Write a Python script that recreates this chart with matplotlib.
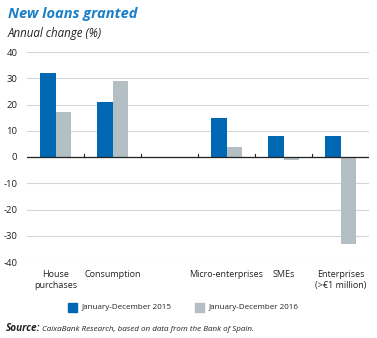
import numpy as np
import matplotlib.pyplot as plt
from matplotlib.patches import Rectangle

# Data
categories = ["House\npurchases", "Consumption", "", "Micro-enterprises", "SMEs",
              "Enterprises\n(>€1 million)"]
values_2015 = [32, 21, np.nan, 15, 8, 8]
values_2016 = [17, 29, np.nan, 4, -1, -33]
y_ticks = [-40, -30, -20, -10, 0, 10, 20, 30, 40]

BLUE = "#0068b3"
GREY = "#b3bfc5"
TITLE_BLUE = "#1b7fc8"
TEXT = "#222222"

plt.rcParams["font.family"] = ["Open Sans", "DejaVu Sans"]

fig = plt.figure(figsize=(3.77, 3.38), dpi=100)
ax = fig.add_axes([27 / 377, 1 - 262 / 338, 342 / 377, 210 / 338])

x = np.arange(len(categories))
w = 0.28
ax.bar(x - w / 2, values_2015, width=w, color=BLUE, zorder=3)
ax.bar(x + w / 2, values_2016, width=w, color=GREY, zorder=3)

ax.set_xlim(-0.5, len(categories) - 0.5)
ax.set_ylim(-40, 40)
ax.set_yticks(y_ticks)
ax.set_yticklabels([str(v) for v in y_ticks], fontsize=6.8, color=TEXT)
ax.tick_params(axis="y", length=0, pad=7)
ax.set_xticks([])
for s in ax.spines.values():
    s.set_visible(False)
ax.grid(axis="y", color="#d5d5d5", linewidth=0.8, zorder=0)

# zero line with small upward category separators
ax.axhline(0, color=TEXT, linewidth=0.9, zorder=4)
for b in np.arange(0.5, len(categories), 1.0):
    ax.plot([b, b], [0, 1.2], color=TEXT, linewidth=0.8, zorder=4)

for xi, lab in zip(x, categories):
    ax.text(xi, -43.0, lab, ha="center", va="top", fontsize=6.5, color=TEXT,
            linespacing=1.35)

# titles
fig.text(8 / 377, 1 - 14 / 338, "New loans granted", fontsize=10.5, fontweight="bold",
         fontstyle="italic", color=TITLE_BLUE, va="center")
fig.text(8 / 377, 1 - 33 / 338, "Annual change (%)", fontsize=8.3, fontstyle="italic",
         color=TEXT, va="center")

# legend
for x0, lab, col in [(68, "January-December 2015", BLUE), (195, "January-December 2016", GREY)]:
    fig.patches.append(Rectangle((x0 / 377, 1 - 312 / 338), 9 / 377, 9 / 338,
                                 transform=fig.transFigure, color=col))
    fig.text((x0 + 14) / 377, 1 - 307.5 / 338, lab, fontsize=5.8, color=TEXT,
             va="center")

# source
fig.text(6 / 377, 1 - 331 / 338, "Source:", fontsize=7.2, fontstyle="italic",
         fontweight="bold", color=TEXT, va="baseline")
fig.text(42 / 377, 1 - 331 / 338, "CaixaBank Research, based on data from the Bank of Spain.",
         fontsize=5.75, fontstyle="italic", color=TEXT, va="baseline")

fig.savefig("out.png", dpi=100)
